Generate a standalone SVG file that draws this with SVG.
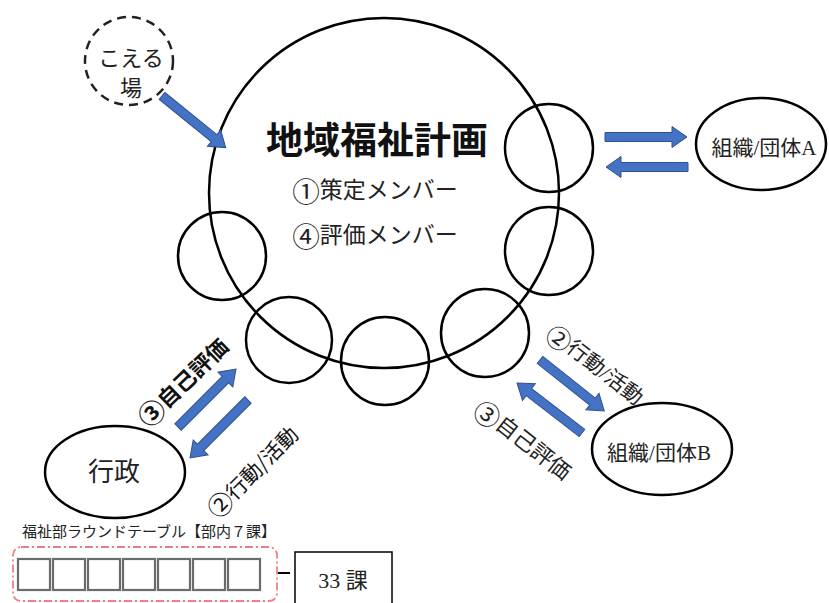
<svg xmlns="http://www.w3.org/2000/svg" width="829" height="603" viewBox="0 0 829 603">
<style>
.ln{fill:none;stroke:#000;stroke-width:2.5}
.dash{fill:none;stroke:#222;stroke-width:2.5;stroke-dasharray:9 6}
.ser{font-family:"Liberation Serif","Noto Sans CJK JP",serif;fill:#222}
.got{font-family:"Noto Sans CJK JP","Liberation Sans",sans-serif;fill:#111}
.num{font-family:"Noto Sans CJK JP",sans-serif;font-size:1.2em}
.arr{fill:#4472C4;stroke:#2F528F;stroke-width:1}
.sq{fill:#fff;stroke:#6b6b6b;stroke-width:2.2}
</style>
<defs>
<path id="arrow" d="M0,-4.5 L67,-4.5 L67,-10.5 L82,0 L67,10.5 L67,4.5 L0,4.5 Z"/>
</defs>
<rect width="829" height="603" fill="#fff"/>

<g id="plan">
<circle class="ln" cx="384" cy="193" r="175"/>
<text class="got" x="377" y="138" font-size="37" font-weight="bold" text-anchor="middle" dominant-baseline="central">地域福祉計画</text>
<text class="ser" x="375" y="190" font-size="23" text-anchor="middle" dominant-baseline="central"><tspan class="num">①</tspan>策定メンバー</text>
<text class="ser" x="375" y="235" font-size="23" text-anchor="middle" dominant-baseline="central"><tspan class="num">④</tspan>評価メンバー</text>
</g>
<g id="members">
<circle class="ln" cx="549" cy="148" r="44"/>
<circle class="ln" cx="549" cy="251" r="44"/>
<circle class="ln" cx="222" cy="256" r="44"/>
<circle class="ln" cx="289" cy="340" r="43"/>
<circle class="ln" cx="385" cy="361" r="44"/>
<circle class="ln" cx="485" cy="333" r="44"/>
</g>
<g id="koeruba">
<circle class="dash" cx="129" cy="61" r="44"/>
<text class="ser" x="131" y="58" font-size="22" text-anchor="middle" dominant-baseline="central">こえる</text>
<text class="ser" x="131" y="88" font-size="22" text-anchor="middle" dominant-baseline="central">場</text>
</g>
<g id="orgA">
<ellipse class="ln" cx="761" cy="144" rx="65" ry="46"/>
<text class="ser" x="764" y="148" font-size="21" text-anchor="middle" dominant-baseline="central">組織/団体A</text>
</g>
<g id="orgB">
<ellipse class="ln" cx="662" cy="449" rx="70" ry="46"/>
<text class="ser" x="659" y="453" font-size="21" text-anchor="middle" dominant-baseline="central">組織/団体B</text>
</g>
<g id="gyousei">
<ellipse class="ln" cx="115" cy="472" rx="70" ry="46"/>
<text class="ser" x="114" y="472" font-size="26" text-anchor="middle" dominant-baseline="central">行政</text>
</g>
<g id="roundtable">
<text class="ser" x="22" y="532" font-size="15" fill="#333" dominant-baseline="central">福祉部ラウンドテーブル【部内７課】</text>
<rect x="13" y="547" width="264" height="54" rx="8" fill="none" stroke="#ef8080" stroke-width="1.8" stroke-dasharray="8 3 2 3"/>
<rect class="sq" x="18" y="559" width="32" height="31"/>
<rect class="sq" x="53" y="559" width="32" height="31"/>
<rect class="sq" x="88" y="559" width="32" height="31"/>
<rect class="sq" x="123" y="559" width="32" height="31"/>
<rect class="sq" x="158" y="559" width="32" height="31"/>
<rect class="sq" x="193" y="559" width="32" height="31"/>
<rect class="sq" x="228" y="559" width="32" height="31"/>
</g>
<g id="ka33">
<rect x="295" y="552" width="97" height="60" fill="#fff" stroke="#000" stroke-width="1.5"/>
<text class="ser" x="343" y="580" font-size="22" text-anchor="middle" dominant-baseline="central">33 課</text>
</g>

<g id="connectors">
<line x1="278" y1="573" x2="290" y2="573" stroke="#000" stroke-width="2"/>
<use href="#arrow" class="arr" transform="translate(162,96) rotate(39)"/>
<use href="#arrow" class="arr" transform="translate(605,137)"/>
<use href="#arrow" class="arr" transform="translate(688,167) rotate(180)"/>
<use href="#arrow" class="arr" transform="translate(540,360) rotate(38.4)"/>
<use href="#arrow" class="arr" transform="translate(582,433) rotate(217.6)"/>
<use href="#arrow" class="arr" transform="translate(178,427) rotate(-45)"/>
<use href="#arrow" class="arr" transform="translate(248,400) rotate(135)"/>
<text class="got" font-size="22" font-weight="bold" text-anchor="middle" dominant-baseline="central" transform="translate(182,381) rotate(-44)"><tspan class="num">③</tspan>自己評価</text>
<text class="got" font-size="21" text-anchor="middle" dominant-baseline="central" transform="translate(252,471) rotate(-45)"><tspan class="num">②</tspan>行動/活動</text>
<text class="ser" font-size="21" text-anchor="middle" dominant-baseline="central" transform="translate(595,365) rotate(38)"><tspan class="num">②</tspan>行動/活動</text>
<text class="ser" font-size="22" text-anchor="middle" dominant-baseline="central" transform="translate(523,440) rotate(38)"><tspan class="num">③</tspan>自己評価</text>
</g>
</svg>
